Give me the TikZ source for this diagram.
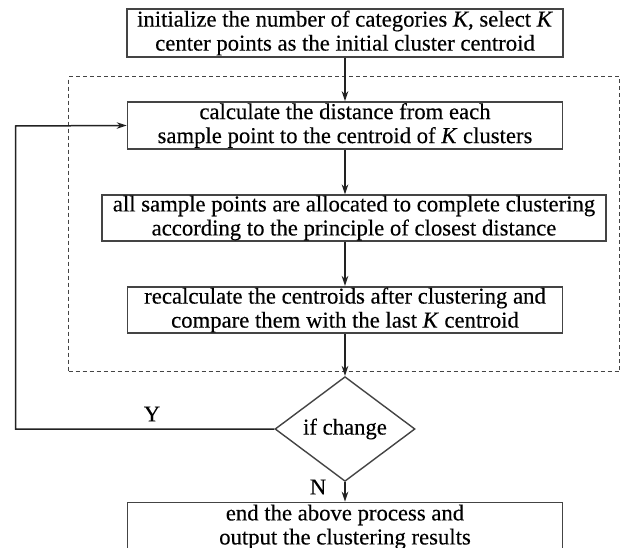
\documentclass[tikz,border=0pt]{standalone}
\usepackage{fontspec}
\setmainfont{Liberation Serif}[FakeBold=0.3]
\usetikzlibrary{shapes.geometric,arrows.meta}
\definecolor{boxgray}{HTML}{444444}
\definecolor{linegray}{HTML}{222222}
\tikzset{
  procbox/.style={draw=boxgray, line width=1.6pt, align=center, inner sep=0pt,
    font=\fontsize{22.7}{24}\selectfont, text=black},
  decbox/.style={draw=boxgray, line width=1.4pt, diamond, inner sep=0pt,
    minimum width=140pt, minimum height=79pt, font=\fontsize{22.7}{24}\selectfont},
  flow/.style={draw=linegray, line width=1.5pt, -{Stealth[length=10pt,width=6.5pt]}},
  groupbox/.style={draw=boxgray, line width=1.3pt, dash pattern=on 4pt off 3pt},
  lab/.style={font=\fontsize{22.7}{24}\selectfont, inner sep=0pt}
}
\begin{document}
\begin{tikzpicture}[x=1pt,y=-1pt]
\clip (0,0) rectangle (623,548);
\fill[white] (0,0) rectangle (623,548);
\node[groupbox, minimum width=551pt, minimum height=295pt, anchor=north west] (grp) at (68,76) {};
\node[procbox, minimum width=436pt, minimum height=48pt] (init) at (345,33)
  {initialize the number of categories \textit{K}, select \textit{K}\\center points as the initial cluster centroid};
\node[procbox, minimum width=435pt, minimum height=47pt] (dist) at (345,125.5)
  {calculate the distance from each\\sample point to the centroid of \textit{K} clusters};
\node[procbox, minimum width=504pt, minimum height=45.5pt] (alloc) at (354,218)
  {all sample points are allocated to complete clustering\\according to the principle of closest distance};
\node[procbox, minimum width=435pt, minimum height=46.5pt] (recalc) at (345,310)
  {recalculate the centroids after clustering and\\compare them with the last \textit{K} centroid};
\node[decbox] (chg) at (345,429) {if change};
\node[procbox, minimum width=435pt, minimum height=49pt, anchor=north] (fin) at (345,501.7)
  {end the above process and\\output the clustering results};
\coordinate (lb) at (15.7,429);
\coordinate (lt) at (15.7,126);
\draw[flow] (init.south) -- (dist.north);
\draw[flow] (dist.south) -- (dist.south |- alloc.north);
\draw[flow] (recalc.north |- alloc.south) -- (recalc.north);
\draw[flow] (recalc.south) -- (chg.north);
\draw[flow] (chg.south) -- (fin.north);
\draw[flow] (chg.west) -- (lb) -- (lt) -- (dist.west);
\node[lab] (ylab) at (152,414) {Y};
\node[lab] (nlab) at (318,487) {N};
\end{tikzpicture}
\end{document}
